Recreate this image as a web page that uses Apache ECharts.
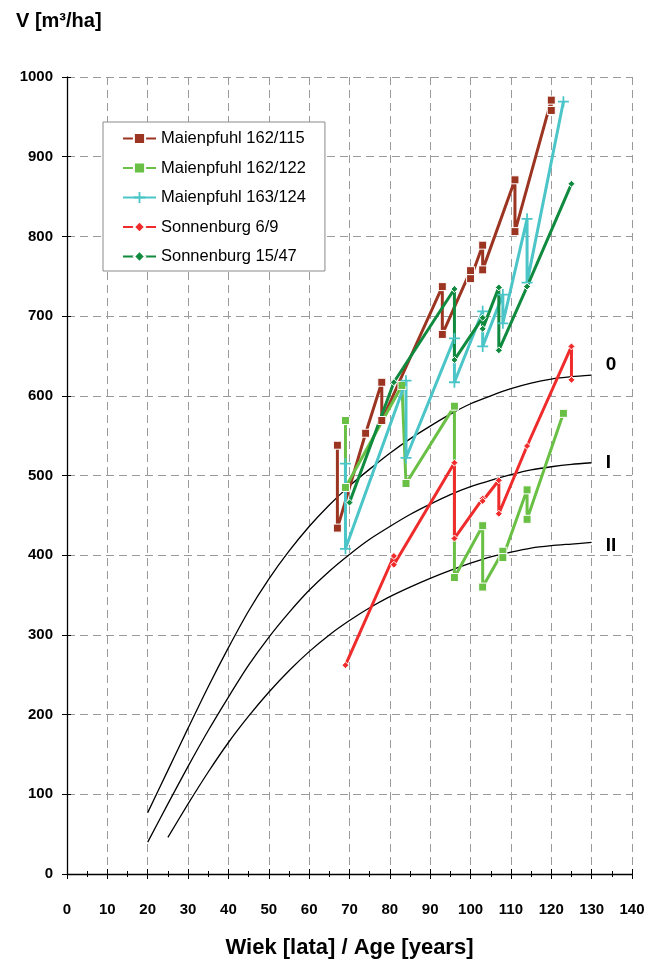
<!DOCTYPE html>
<html><head><meta charset="utf-8">
<script src="https://cdn.jsdelivr.net/npm/echarts@6/dist/echarts.min.js"></script>
<style>html,body{margin:0;padding:0;background:#fff}#c{width:659px;height:964px}</style>
</head><body><div id="c"></div>
<script>
// ---- data ----
const xTicks = [0,10,20,30,40,50,60,70,80,90,100,110,120,130,140];
const yTicks = [0,100,200,300,400,500,600,700,800,900,1000];

const m115Age = [67,67,74,78,78,93,93,100,100,103,103,111,111,120,120];
const m115V   = [538,434,553,617,569,737,677,757,747,789,758,871,806,971,958];

const m122Age = [69,69,83,84,96,96,103,103,108,108,114,114,123];
const m122V   = [569,485,613,490,587,372,437,360,405,397,482,445,578];

const m124Age = [69,69,84,84,96,96,103,103,108,108,114,114,123];
const m124V   = [515,408,619,522,672,617,706,662,727,691,822,742,969];

const s69Age = [69,81,81,96,96,103,103,107,107,114,125,125];
const s69V   = [262,399,388,516,421,471,468,494,452,537,662,620];

const s1547Age = [70,81,96,96,103,103,107,107,114,125];
const s1547V   = [466,617,734,645,698,684,736,657,737,866];

const c0Age = [20,25,30,35,40,45,50,55,60,65,70,75,80,85,90,95,100,105,110,115,120,125,130];
const c0V   = [77,130,183,235,284,330,370,405,436,463,487,508,528,546,562,577,590,600,609,616,621,624,626];
const c1Age = [20,25,30,35,40,45,50,55,60,65,70,75,80,85,90,95,100,105,110,115,120,125,130];
const c1V   = [40,88,135,180,222,262,297,328,356,380,401,420,436,451,464,476,486,494,501,507,511,514,516];
const c2Age = [25,30,35,40,45,50,55,60,65,70,75,80,85,90,95,100,105,110,115,120,125,130];
const c2V   = [46,88,128,165,198,228,255,279,300,318,334,348,360,371,381,390,398,404,409,412,414,416];

const names = ['Maienpfuhl 162/115','Maienpfuhl 162/122','Maienpfuhl 163/124','Sonnenburg 6/9','Sonnenburg 15/47'];

// ---- build ----
const zip = (a,b) => a.map((v,i)=>[v,b[i]]);
const F = '"Liberation Sans", Arial, sans-serif';
const plus = 'path://M4.2,0h1.6v4.2h4.2v1.6h-4.2v4.2h-1.6v-4.2h-4.2v-1.6h4.2z';

function obs(name, ages, vals, color, symbol, size, border){
  return {name, type:'line', data:zip(ages,vals), xAxisIndex:0, yAxisIndex:0,
    lineStyle:{color, width:3}, itemStyle:{color, borderColor:border?'#fff':color, borderWidth:border?1:0},
    symbol, symbolSize:size, showAllSymbol:true, z:5};
}
function curve(label, ages, vals, off){
  return {name:'class '+label, type:'line', data:zip(ages,vals), xAxisIndex:0, yAxisIndex:0,
    smooth:0.25, showSymbol:false, symbol:'none',
    lineStyle:{color:'#000', width:1.3}, z:3, silent:true,
    endLabel:{show:true, formatter:label, color:'#000', fontFamily:F, fontWeight:'bold', fontSize:19,
      distance:14, offset:off}};
}

const axisCommon = {
  axisLine:{show:true, onZero:false, lineStyle:{color:'#000', width:1.3}},
  splitLine:{show:true, lineStyle:{color:'#9a9a9a', type:[8,5], width:1}},
};

const option = {
  animation:false,
  backgroundColor:'#fff',
  title:{text:'V [m³/ha]', left:11, top:6, textStyle:{fontFamily:F, fontWeight:'bold', fontSize:20, color:'#000'}},
  grid:{left:67, right:27, top:77, bottom:82, containLabel:false},
  legend:{data:names, orient:'vertical', left:103, top:122, backgroundColor:'#fff',
    borderColor:'#8a8a8a', borderWidth:1, padding:[8,19,6,19], itemGap:12.5, itemWidth:33, itemHeight:14,
    textStyle:{fontFamily:F, fontSize:16.5, color:'#000'}},
  xAxis:[
    Object.assign({type:'value', min:0, max:140, interval:10, position:'bottom',
      name:'Wiek [lata] / Age [years]', nameLocation:'middle', nameGap:63,
      nameTextStyle:{fontFamily:F, fontWeight:'bold', fontSize:22, color:'#000'},
      axisLabel:{fontFamily:F, fontWeight:'bold', fontSize:15, color:'#000', margin:28},
      axisTick:{show:true, length:5, lineStyle:{color:'#000'}},
      minorTick:{show:true, splitNumber:2, length:3, lineStyle:{color:'#000'}}}, axisCommon),
    {type:'value', min:0, max:140, interval:10, position:'bottom', axisLine:{show:false},
      axisLabel:{show:false}, splitLine:{show:false},
      axisTick:{show:true, inside:true, length:5, lineStyle:{color:'#000'}},
      minorTick:{show:true, splitNumber:2, length:3, lineStyle:{color:'#000'}}}
  ],
  yAxis:[
    Object.assign({type:'value', min:0, max:1000, interval:100,
      axisLabel:{fontFamily:F, fontWeight:'bold', fontSize:15, color:'#000', margin:14, formatter:v=>String(v)},
      axisTick:{show:true, length:5, lineStyle:{color:'#000'}}}, axisCommon),
    {type:'value', min:0, max:1000, interval:100, position:'left', axisLine:{show:false},
      axisLabel:{show:false}, splitLine:{show:false},
      axisTick:{show:true, inside:true, length:4, lineStyle:{color:'#000'}}}
  ],
  series:[
    curve('0', c0Age, c0V, [0,-10]),
    curve('I', c1Age, c1V, [0,0]),
    curve('II', c2Age, c2V, [0,3]),
    obs(names[0], m115Age, m115V, '#9b3522', 'rect', 8, true),
    obs(names[1], m122Age, m122V, '#6abf45', 'rect', 8, true),
    obs(names[2], m124Age, m124V, '#4bc5c8', plus, 11, false),
    obs(names[3], s69Age, s69V, '#ef2b2b', 'diamond', 7, true),
    obs(names[4], s1547Age, s1547V, '#0f8a3f', 'diamond', 7, true),
    {type:'line', xAxisIndex:1, yAxisIndex:1, data:[], silent:true}
  ]
};
const chart = echarts.init(document.getElementById('c'), null, {renderer:'canvas'});
chart.setOption(option);
</script></body></html>
